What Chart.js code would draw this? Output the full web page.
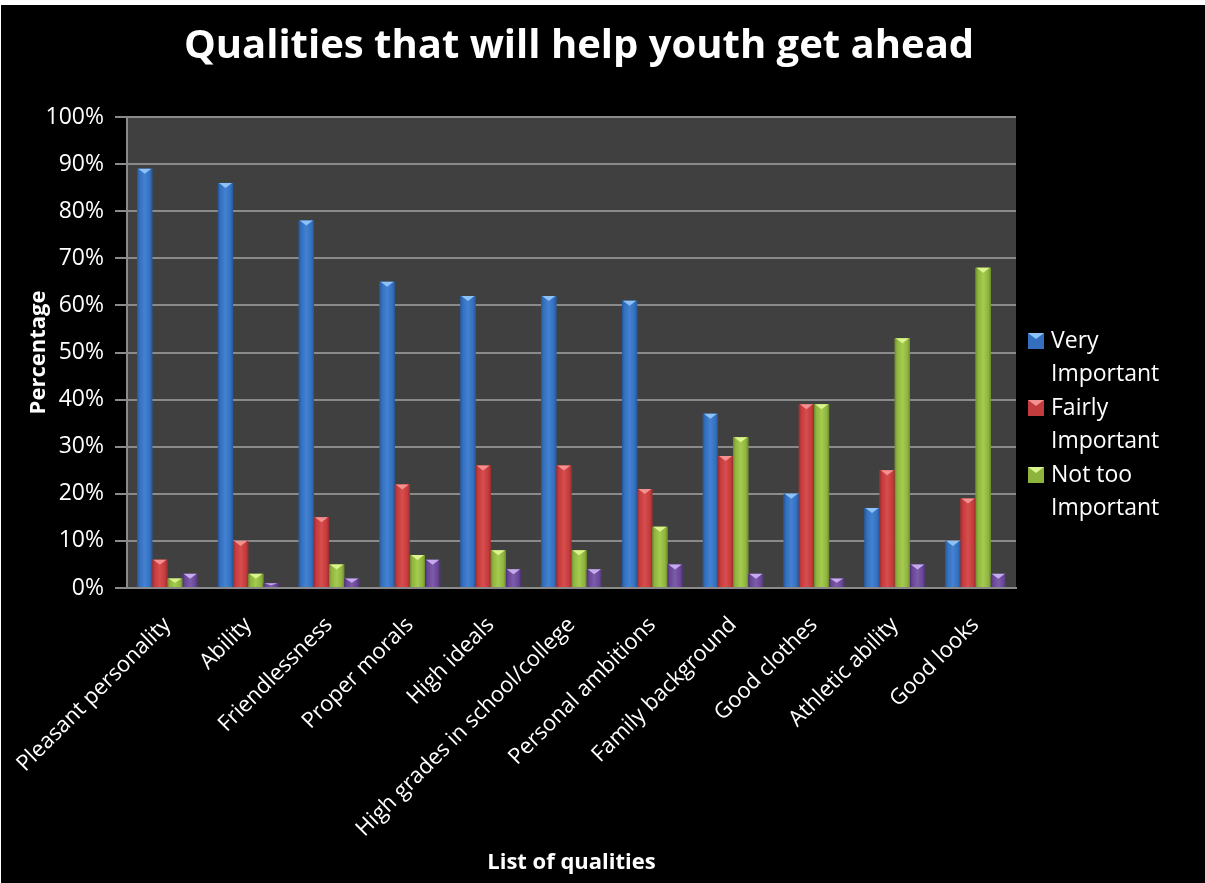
<!DOCTYPE html>
<html>
<head>
<meta charset="utf-8">
<script src="https://cdn.jsdelivr.net/npm/chart.js@4.4.0/dist/chart.umd.min.js"></script>
<style>
  body { margin: 0; background: #fff; }
  #wrap { margin-top: 5px; margin-left: 1px; width: 1204px; height: 878px; background: #000; }
</style>
</head>
<body>
<div id="wrap"><canvas id="chart" width="1204" height="878"></canvas></div>
<script>
const qualities = ["Pleasant personality", "Ability", "Friendlessness", "Proper morals", "High ideals",
    "High grades in school/college", "Personal ambitions", "Family background", "Good clothes",
    "Athletic ability", "Good looks"];
const veryImportant   = [89, 86, 78, 65, 62, 62, 61, 37, 20, 17, 10];
const fairlyImportant = [6, 10, 15, 22, 26, 26, 21, 28, 39, 25, 19];
const notTooImportant = [2, 3, 5, 7, 8, 8, 13, 32, 39, 53, 68];
const notAtAll        = [3, 1, 2, 6, 4, 4, 5, 3, 2, 5, 3];
const seriesNames = ["Very Important", "Fairly Important", "Not too Important", "Not at all Important"];
const inLegend = [true, true, true, false];
const chartTitle = "Qualities that will help youth get ahead";

// dark edge, body, light middle, cap
const shades = [
    ["#24569a", "#336fbd", "#4382d2", "#8cc2f8"],
    ["#9a2b2d", "#c33b3c", "#d84d4d", "#f39090"],
    ["#6a8a2a", "#8fb43e", "#a6cb50", "#dcf48e"],
    ["#4a2f72", "#684694", "#7c5bab", "#c7abef"]
];
const FONT = "'Open Sans', sans-serif";

// grey plot background behind the bars
const plotBg = {
    id: "plotBg",
    beforeDraw(c) {
        const a = c.chartArea;
        c.ctx.save();
        c.ctx.fillStyle = "#404040";
        c.ctx.fillRect(a.left, a.top, a.right - a.left, a.bottom - a.top);
        c.ctx.restore();
    }
};

// shaded columns with a bevelled top
const bevel = {
    id: "bevel",
    afterDatasetsDraw(c) {
        const ctx = c.ctx;
        ctx.save();
        c.data.datasets.forEach((ds, i) => {
            const s = shades[i];
            c.getDatasetMeta(i).data.forEach(bar => {
                const l = bar.x - bar.width / 2, r = bar.x + bar.width / 2;
                const top = bar.y, base = bar.base;
                const g = ctx.createLinearGradient(l, 0, r, 0);
                g.addColorStop(0, s[0]);
                g.addColorStop(0.15, s[1]);
                g.addColorStop(0.5, s[2]);
                g.addColorStop(0.85, s[1]);
                g.addColorStop(1, s[0]);
                ctx.fillStyle = g;
                ctx.fillRect(l, top, r - l, base - top);
                const cap = Math.min(5, (base - top) / 2);
                ctx.fillStyle = s[3];
                ctx.beginPath();
                ctx.moveTo(l + 1, top);
                ctx.lineTo(r - 1, top);
                ctx.lineTo(bar.x, top + cap);
                ctx.closePath();
                ctx.fill();
            });
        });
        ctx.restore();
    }
};

// title centred over the whole picture, legend at the right with two-line labels
const decor = {
    id: "decor",
    afterDraw(c) {
        const ctx = c.ctx;
        ctx.save();
        ctx.fillStyle = "#fff";
        ctx.textAlign = "center";
        ctx.textBaseline = "middle";
        ctx.font = "bold 40px " + FONT;
        ctx.fillText(chartTitle, 578, 42);

        ctx.textAlign = "left";
        ctx.font = "23px " + FONT;
        let y = 336;
        seriesNames.forEach((name, i) => {
            if (!inLegend[i]) return;
            const s = shades[i];
            ctx.fillStyle = s[1];
            ctx.fillRect(1027, y - 8, 16, 16);
            ctx.fillStyle = s[3];
            ctx.beginPath();
            ctx.moveTo(1027, y - 8); ctx.lineTo(1043, y - 8); ctx.lineTo(1035, y - 2);
            ctx.closePath(); ctx.fill();
            ctx.fillStyle = "#fff";
            const words = name.split(" ");
            ctx.fillText(words.slice(0, -1).join(" "), 1050, y);
            ctx.fillText(words[words.length - 1], 1050, y + 33);
            y += 67;
        });
        ctx.restore();
    }
};

const data = {
    labels: qualities,
    datasets: [veryImportant, fairlyImportant, notTooImportant, notAtAll].map((vals, i) => ({
        label: seriesNames[i],
        data: vals,
        backgroundColor: shades[i][1],
        borderWidth: 0
    }))
};

const options = {
    responsive: false,
    animation: false,
    layout: { padding: { left: 0, right: 189, top: 112, bottom: 0 } },
    datasets: { bar: { categoryPercentage: 0.75, barPercentage: 1.0 } },
    plugins: {
        legend: { display: false },
        tooltip: { enabled: false },
        title: { display: false }
    },
    scales: {
        x: {
            grid: { display: false, drawTicks: false },
            border: { display: true, color: "#8a8a8a", width: 2 },
            ticks: { color: "#fff", font: { family: FONT, size: 22 }, minRotation: 45, maxRotation: 45, padding: 24, autoSkip: false },
            title: { display: true, text: "List of qualities", color: "#fff",
                font: { family: FONT, size: 22, weight: "bold", lineHeight: 1.2 }, padding: { bottom: 7 } },
            afterFit(s) {
                s.height = 295;
                // the long first label may hang past the axis; don't let it push the plot
                s.paddingLeft = 0;
                s.paddingRight = 0;
            }
        },
        y: {
            min: 0, max: 100,
            ticks: { stepSize: 10, color: "#fff", font: { family: FONT, size: 23 }, padding: 11,
                callback: v => v + "%" },
            grid: { color: "#8a8a8a", lineWidth: 2, tickLength: 12, tickColor: "#8a8a8a" },
            border: { display: true, color: "#8a8a8a", width: 2 },
            title: { display: true, text: "Percentage", color: "#fff",
                font: { family: FONT, size: 22, weight: "bold", lineHeight: 1.2 }, padding: { top: 25 } },
            afterFit(s) { s.width = 126; }
        }
    }
};

const ctx = document.getElementById("chart").getContext("2d");
const chart = new Chart(ctx, { type: "bar", data: data, options: options, plugins: [plotBg, bevel, decor] });
</script>
</body>
</html>
